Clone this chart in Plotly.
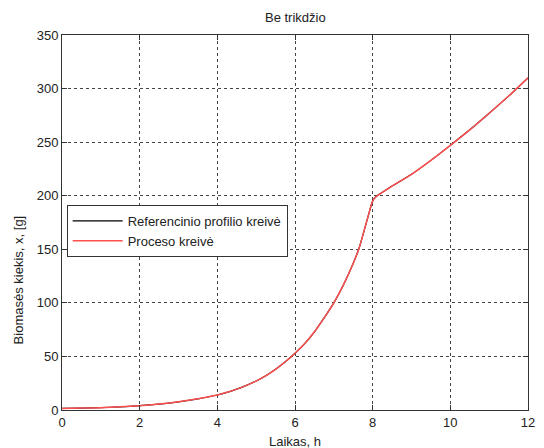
import plotly.graph_objects as go

# Time axis, h
hours = [0, 0.5, 1, 1.5, 2, 2.5, 3, 3.5, 4, 4.25, 4.5, 4.75, 5, 5.25, 5.5,
         5.75, 6, 6.25, 6.5, 6.75, 7, 7.25, 7.5, 7.65, 7.8, 7.9, 7.97, 8.03,
         8.1, 8.2, 8.5, 9, 9.5, 10, 10.5, 11, 11.5, 12]

# Reference biomass profile, g
reference_biomass = [1.5, 1.8, 2.2, 3.0, 4.0, 5.5, 7.6, 10.4, 14, 16.5, 19.5,
                     23, 27, 32, 38, 45, 53, 62, 73, 86, 100, 117, 137, 151,
                     170, 183, 192, 197, 199.5, 202, 209, 220, 233, 247, 261.5,
                     277, 293, 310]

# Simulated process biomass, g (tracks the reference without disturbance)
process_biomass = [1.5, 1.8, 2.2, 3.0, 4.0, 5.5, 7.6, 10.4, 14, 16.5, 19.5,
                   23, 27, 32, 38, 45, 53, 62, 73, 86, 100, 117, 137, 151,
                   170, 183, 192, 197, 199.5, 202, 209, 220, 233, 247, 261.5,
                   277, 293, 310]

x_ticks = [0, 2, 4, 6, 8, 10, 12]
y_ticks = [0, 50, 100, 150, 200, 250, 300, 350]

font_family = "Liberation Sans, Arial, sans-serif"
text_color = "#222"

fig = go.Figure()
fig.add_trace(go.Scatter(x=hours, y=reference_biomass, mode="lines",
                         name="Referencinio profilio kreivė",
                         line=dict(color="black", width=1.2, shape="spline", smoothing=0.6)))
fig.add_trace(go.Scatter(x=hours, y=process_biomass, mode="lines",
                         name="Proceso kreivė",
                         line=dict(color="#ff5050", width=1.5, shape="spline", smoothing=0.6)))

axis_common = dict(
    showline=True, linecolor="#333", linewidth=1, mirror="ticks",
    ticks="inside", ticklen=5, tickcolor="#333",
    showgrid=True, gridcolor="#444", griddash="dot", gridwidth=1,
    zeroline=False,
    tickfont=dict(family=font_family, size=13, color=text_color),
)

fig.update_xaxes(range=[0, 12], tickvals=x_ticks, **axis_common)
fig.update_yaxes(range=[0, 350], tickvals=y_ticks, **axis_common)

fig.update_layout(
    width=544, height=448,
    margin=dict(l=62, r=9, t=35, b=38),
    paper_bgcolor="white", plot_bgcolor="white",
    font=dict(family=font_family, size=13, color=text_color),
    showlegend=True,
    legend=dict(x=0.01, y=0.547, xanchor="left", yanchor="top",
                bgcolor="white", bordercolor="#333", borderwidth=1,
                itemwidth=50,
                font=dict(family=font_family, size=13, color=text_color),
                tracegroupgap=0),
    annotations=[
        dict(text="Be trikdžio", x=0.5, y=1, xref="paper", yref="paper",
             xanchor="center", yanchor="bottom", yshift=8, showarrow=False,
             font=dict(family=font_family, size=13, color=text_color)),
        dict(text="Laikas, h", x=0.5, y=0, xref="paper", yref="paper",
             xanchor="center", yanchor="top", yshift=-22, showarrow=False,
             font=dict(family=font_family, size=13, color=text_color)),
        dict(text="Biomasės kiekis, x, [g]", x=0, y=0.347, xref="paper", yref="paper",
             xanchor="right", yanchor="middle", xshift=-34, textangle=-90,
             showarrow=False,
             font=dict(family=font_family, size=13, color=text_color)),
    ],
)

fig.write_html("out.html")
